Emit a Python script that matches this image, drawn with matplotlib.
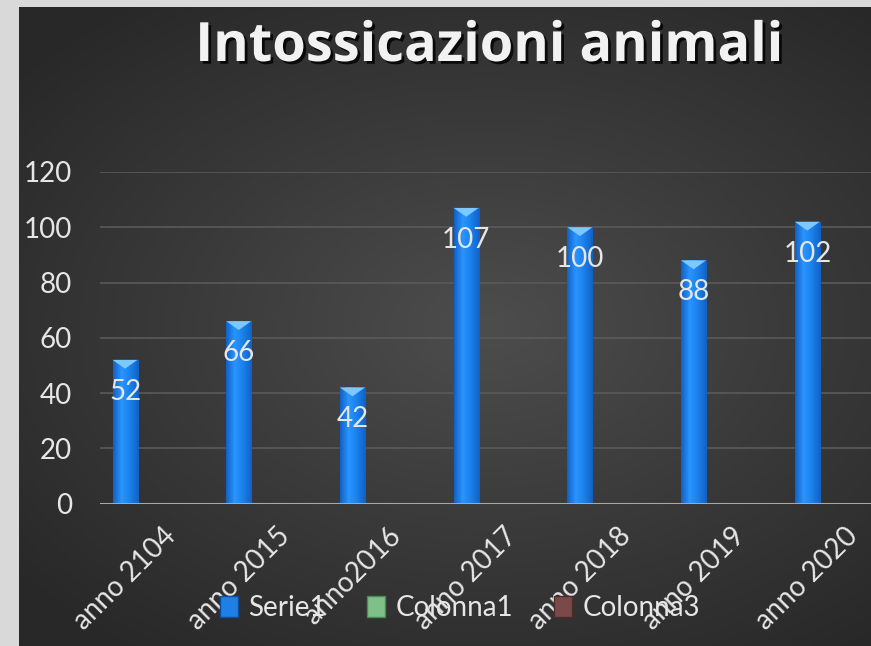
import matplotlib
matplotlib.use("Agg")
import matplotlib.pyplot as plt
import matplotlib.patheffects as pe
from matplotlib.colors import LinearSegmentedColormap
from matplotlib.patches import Patch
import numpy as np

# data
categories = ["anno 2104", "anno 2015", "anno2016", "anno 2017", "anno 2018", "anno 2019", "anno 2020"]
serie1 = [52, 66, 42, 107, 100, 88, 102]
legend_labels = ["Serie1", "Colonna1", "Colonna3"]
yticks = [0, 20, 40, 60, 80, 100, 120]

W, H = 871, 646
plt.rcParams["font.family"] = ["Lato", "DejaVu Sans"]
TXT = "#e6e6e6"

fig = plt.figure(figsize=(W / 100, H / 100), dpi=100, facecolor="#d9d9d9")

# dark panel with radial gradient
bg = fig.add_axes([19 / W, 0, 1 - 19 / W, 1 - 7 / H])
bg.set_axis_off()
yy, xx = np.mgrid[0:1:300j, 0:1:400j]
r = np.sqrt(((xx - 0.55) / 0.9) ** 2 + ((yy - 0.5) / 0.8) ** 2)
bg_cmap = LinearSegmentedColormap.from_list("bg", ["#4d4d4d", "#3a3a3a", "#282828"])
bg.imshow(np.clip(r, 0, 1), cmap=bg_cmap, aspect="auto", extent=[0, 1, 0, 1],
          vmin=0, vmax=0.8)
bg.set_xlim(0, 1)
bg.set_ylim(0, 1)

ax = fig.add_axes([100 / W, (H - 503.5) / H, 1 - 100 / W, (503.5 - 172) / H])
ax.set_facecolor("none")

x = np.arange(len(categories))
bw = 0.22
bars = ax.bar(x, serie1, width=bw, color="#1e88f0", edgecolor="#0f5cad",
              linewidth=0.8, zorder=3)

# horizontal shading inside each bar
bar_cmap = LinearSegmentedColormap.from_list("bar", ["#1260c4", "#2a95ff", "#1a80ea", "#1260c4"])
grad = np.linspace(0, 1, 64).reshape(1, -1)
for b in bars:
    x0, w, h = b.get_x(), b.get_width(), b.get_height()
    im = ax.imshow(grad, cmap=bar_cmap, aspect="auto", extent=[x0, x0 + w, 0, h], zorder=3.5)
    im.set_clip_path(b)
    # lighter bevel at the top
    ax.fill([x0, x0 + w, x0 + w / 2], [h, h, h - 3.2], color="#7cc8ff", zorder=4, lw=0)

ax.set_xlim(-0.22, 6.56)
ax.set_ylim(0, 120)

for xi, v in zip(x, serie1):
    ax.annotate(str(v), (xi, v), xytext=(0, -23), textcoords="offset points",
                ha="center", va="center", fontsize=20, color=TXT, zorder=5)

ax.set_yticks(yticks)
ax.set_yticklabels([str(t) for t in yticks])
ax.grid(axis="y", color="#5a5a5a", linewidth=1.2, zorder=0)
ax.axhline(0, color="#a8a8a8", linewidth=2.2, zorder=6)
for s in ax.spines.values():
    s.set_visible(False)
ax.tick_params(axis="y", length=0, pad=20, labelsize=20, labelcolor=TXT)
ax.tick_params(axis="x", length=0, pad=14)
ax.set_xticks(x)
ax.set_xticklabels(categories, rotation=45, ha="center", va="top",
                   fontsize=20, color=TXT)

handles = [Patch(facecolor="#1e7fe6", edgecolor="#0f4f99"),
           Patch(facecolor="#7fc08a", edgecolor="#4a8a55"),
           Patch(facecolor="#7a4a48", edgecolor="#4e2c2b")]
leg = fig.legend(handles, legend_labels, loc="center", bbox_to_anchor=(460 / W, 1 - 608 / H),
                 ncol=3, frameon=False, fontsize=20, handlelength=0.65, handleheight=0.8,
                 handletextpad=0.35, columnspacing=1.5)
for t in leg.get_texts():
    t.set_color(TXT)

fig.text(489 / W, 1 - 47 / H, "Intossicazioni animali", ha="center", va="center",
         fontsize=39, fontweight="bold", color="#f2f2f2", family=["Open Sans", "DejaVu Sans"],
         path_effects=[pe.withSimplePatchShadow(offset=(2, -2), shadow_rgbFace="black", alpha=0.8)])

fig.savefig("out.png", dpi=100, facecolor=fig.get_facecolor())
